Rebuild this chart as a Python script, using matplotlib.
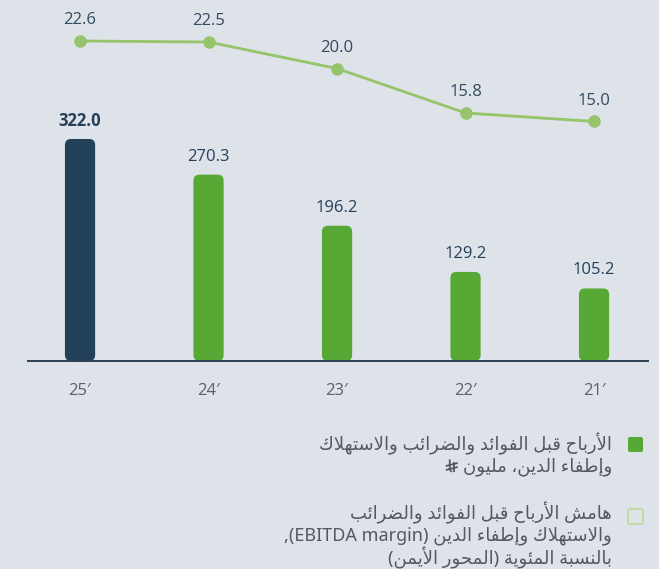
import re
import matplotlib
matplotlib.use("Agg")
import matplotlib.pyplot as plt
from matplotlib.patches import FancyBboxPatch
from matplotlib.lines import Line2D

# ---------------- data ----------------
years = ["25′", "24′", "23′", "22′", "21′"]
ebitda = [322.0, 270.3, 196.2, 129.2, 105.2]
margin = [22.6, 22.5, 20.0, 15.8, 15.0]
legend_bar = ["الأرباح قبل الفوائد والضرائب والاستهلاك",
              "وإطفاء الدين، مليون"]   # followed by the Saudi riyal sign (drawn, no font has U+20C1)
legend_line = ["هامش الأرباح قبل الفوائد والضرائب",
               "والاستهلاك وإطفاء الدين (EBITDA margin),",
               "بالنسبة المئوية (المحور الأيمن)"]

# ---------------- arabic shaping ----------------
DUAL = {'\u0626': 0xFE89, '\u0628': 0xFE8F, '\u062A': 0xFE95, '\u062B': 0xFE99,
        '\u062C': 0xFE9D, '\u062D': 0xFEA1, '\u062E': 0xFEA5, '\u0633': 0xFEB1,
        '\u0634': 0xFEB5, '\u0635': 0xFEB9, '\u0636': 0xFEBD, '\u0637': 0xFEC1,
        '\u0638': 0xFEC5, '\u0639': 0xFEC9, '\u063A': 0xFECD, '\u0641': 0xFED1,
        '\u0642': 0xFED5, '\u0643': 0xFED9, '\u0644': 0xFEDD, '\u0645': 0xFEE1,
        '\u0646': 0xFEE5, '\u0647': 0xFEE9, '\u064A': 0xFEF1}
RIGHT = {'\u0622': 0xFE81, '\u0623': 0xFE83, '\u0624': 0xFE85, '\u0625': 0xFE87,
         '\u0627': 0xFE8D, '\u0629': 0xFE93, '\u062F': 0xFEA9, '\u0630': 0xFEAB,
         '\u0631': 0xFEAD, '\u0632': 0xFEAF, '\u0648': 0xFEED, '\u0649': 0xFEEF}
LAMALEF = {'\u0622': 0xFEF5, '\u0623': 0xFEF7, '\u0625': 0xFEF9, '\u0627': 0xFEFB}


def shape(s):
    toks = []
    i = 0
    while i < len(s):
        c = s[i]
        if c == '\u0644' and i + 1 < len(s) and s[i + 1] in LAMALEF:
            toks.append(('LA', s[i + 1]))
            i += 2
        else:
            toks.append(('C', c))
            i += 1

    def jn(t):
        return t is not None and t[0] == 'C' and t[1] in DUAL

    def jp(t):
        return t is not None and (t[0] == 'LA' or t[1] in DUAL or t[1] in RIGHT)

    out = []
    for k, t in enumerate(toks):
        prev = toks[k - 1] if k > 0 else None
        nxt = toks[k + 1] if k + 1 < len(toks) else None
        cp = jp(t) and jn(prev)
        if t[0] == 'LA':
            out.append(chr(LAMALEF[t[1]] + (1 if cp else 0)))
            continue
        c = t[1]
        if c in DUAL:
            cn = jp(nxt)
            idx = 3 if (cp and cn) else 1 if cp else 2 if cn else 0
            out.append(chr(DUAL[c] + idx))
        elif c in RIGHT:
            out.append(chr(RIGHT[c] + (1 if cp else 0)))
        elif c == '\u0621':
            out.append('\uFE80')
        else:
            out.append(c)
    return ''.join(out)


MIRROR = {'(': ')', ')': '('}


def visual(s):
    sh = shape(s)
    parts = re.split(r'([A-Za-z0-9](?:[A-Za-z0-9 .]*[A-Za-z0-9])?)', sh)
    out = []
    for i, p in enumerate(parts):
        if i % 2 == 1:
            out.append(p)
        else:
            out.append(''.join(MIRROR.get(ch, ch) for ch in reversed(p)))
    return ''.join(reversed(out))


# ---------------- figure ----------------
W, H = 659, 569
fig = plt.figure(figsize=(W / 100, H / 100), dpi=100)
bg = "#dde3e9"
fig.patch.set_facecolor(bg)

ax_left, ax_right = 28 / W, 648 / W
ax_bottom = 1 - 361 / H
ax = fig.add_axes([ax_left, ax_bottom, ax_right - ax_left, 1 - ax_bottom])
ax.set_facecolor("none")
x = list(range(len(years)))

num_font = ["Open Sans", "DejaVu Sans"]
navy = "#23405a"
green = "#57a834"
lgreen = "#95c46a"

ax.set_xlim(-0.405, 4.42)
ax.set_ylim(0, 523.6)

bar_colors = [navy] + [green] * (len(years) - 1)
bars = ax.bar(x, ebitda, width=0.235, color=bar_colors)

fig.canvas.draw()
p0 = ax.transData.transform((0, 0))
p1 = ax.transData.transform((1, 1))
px_x = p1[0] - p0[0]
px_y = p1[1] - p0[1]
r_px = 6
for b in bars:
    bx, bw, bh = b.get_x(), b.get_width(), b.get_height()
    fc = b.get_facecolor()
    b.remove()
    patch = FancyBboxPatch((bx, 0), bw, bh,
                           boxstyle=f"round,pad=0,rounding_size={r_px / px_x}",
                           mutation_aspect=px_x / px_y,
                           facecolor=fc, edgecolor="none", zorder=2)
    ax.add_patch(patch)

for i, v in enumerate(ebitda):
    ax.annotate(f"{v:.1f}", (x[i], v), xytext=(0, 13), textcoords="offset points",
                ha="center", va="center", fontsize=12, color="#26405a",
                family=num_font, fontweight="bold" if i == 0 else "normal")

for s in ["top", "left", "right"]:
    ax.spines[s].set_visible(False)
ax.spines["bottom"].set_color("#2b3f52")
ax.spines["bottom"].set_linewidth(1.4)
ax.set_yticks([])
ax.set_xticks(x)
ax.set_xticklabels(years, fontsize=12, color="#5a5f66", family=num_font)
ax.tick_params(axis="x", length=0, pad=16)

ax2 = ax.twinx()
ax2.set_ylim(-7.62, 26.47)
ax2.plot(x, margin, color=lgreen, lw=2, marker="o", markersize=8, zorder=3)
for i, v in enumerate(margin):
    ax2.annotate(f"{v:.1f}", (x[i], v), xytext=(0, 15), textcoords="offset points",
                 ha="center", va="center", fontsize=12, color="#34495e", family=num_font)
ax2.set_yticks([])
for s in ["top", "left", "right", "bottom"]:
    ax2.spines[s].set_visible(False)

# ---------------- legend ----------------
txt_font = ["Noto Sans", "DejaVu Sans"]
txt_color = "#55595f"
fs = 13


def fx(px):
    return px / W


def fy(py):
    return 1 - py / H


sq = 15
fig.patches.append(FancyBboxPatch((fx(628), fy(452)), sq / W, sq / H,
                                  boxstyle=f"round,pad=0,rounding_size={2 / W}",
                                  mutation_aspect=W / H,
                                  transform=fig.transFigure, facecolor=green,
                                  edgecolor="none"))
fig.patches.append(FancyBboxPatch((fx(628), fy(524)), sq / W, sq / H,
                                  boxstyle=f"round,pad=0,rounding_size={2 / W}",
                                  mutation_aspect=W / H,
                                  transform=fig.transFigure, facecolor="none",
                                  edgecolor="#b9da9c", lw=1.2))

bar_texts = []
for j, line in enumerate(legend_bar):
    t = fig.text(fx(612), fy(444 + 23 * j), visual(line), ha="right", va="center",
                 fontsize=fs, color=txt_color, family=txt_font)
    bar_texts.append(t)
for j, line in enumerate(legend_line):
    fig.text(fx(612), fy(513 + 22.5 * j), visual(line), ha="right", va="center",
             fontsize=fs, color=txt_color, family=txt_font)

# Saudi riyal sign (U+20C1, not in any installed font) drawn as strokes
fig.canvas.draw()
bb = bar_texts[1].get_window_extent(fig.canvas.get_renderer())
sx1 = bb.x0 - 5            # right edge of sign, display px (origin bottom-left)
sw, sh_ = 12, 13
cy = (bb.y0 + bb.y1) / 2 + 1
sy_top = cy + sh_ / 2
sx0 = sx1 - sw


def P(px, py):  # px from left of sign, py from top of sign -> figure fraction
    return (sx0 + px) / W, (sy_top - py) / H


strokes = [
    [P(4, 0), P(4, 10), P(6, 12.5)],
    [P(8.5, 2), P(8.5, 12.5)],
    [P(0, 6.5), P(12, 3.5)],
    [P(0, 10.5), P(12, 7.5)],
]
for st in strokes:
    xs = [p[0] for p in st]
    ys = [p[1] for p in st]
    fig.lines.append(Line2D(xs, ys, transform=fig.transFigure, color=txt_color,
                            lw=1.3, solid_capstyle="butt"))

fig.savefig("out.png", dpi=100, facecolor=fig.get_facecolor())
